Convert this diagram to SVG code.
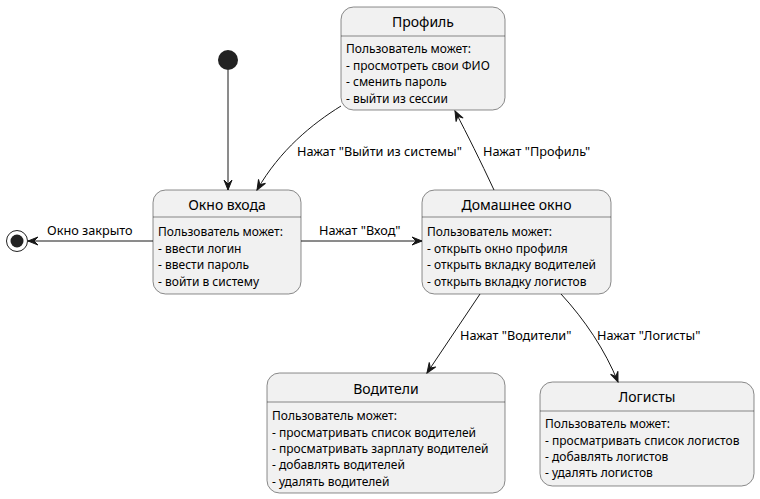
<svg xmlns="http://www.w3.org/2000/svg" width="760" height="499" viewBox="0 0 760 499">
<style>
.box{fill:#F1F1F1;stroke:#181818;stroke-width:0.5}
.div{stroke:#181818;stroke-width:0.5}
.t{font-family:"Noto Sans","DejaVu Sans",sans-serif;font-size:14px;font-weight:normal;fill:#000;text-anchor:middle}
.b{font-family:"Noto Sans","DejaVu Sans",sans-serif;font-size:12px;fill:#000}
.l{font-family:"Noto Sans","DejaVu Sans",sans-serif;font-size:12.7px;fill:#000}
.e{fill:none;stroke:#181818;stroke-width:1;marker-end:url(#ah)}
</style>
<defs>
<marker id="ah" markerUnits="userSpaceOnUse" viewBox="-11 -5 12 10" refX="0" refY="0" markerWidth="12" markerHeight="10" orient="auto">
<path d="M0,0 L-10,-4 L-6,0 L-10,4 Z" fill="#181818" stroke="#181818" stroke-width="1"/>
</marker>
</defs>
<rect width="760" height="499" fill="#FFFFFF"/>
<g id="start"><circle cx="228" cy="60" r="10" fill="#222222"/></g>
<g id="end"><circle cx="17" cy="241" r="10.5" fill="none" stroke="#222222" stroke-width="1"/><circle cx="17" cy="241" r="6.5" fill="#222222"/></g>
<g id="profile">
<rect class="box" x="341" y="7" width="164" height="103" rx="12.5"/>
<line class="div" x1="341" y1="36" x2="505" y2="36"/>
<text class="t" x="423" y="27">Профиль</text>
<text class="b" x="346" y="53">Пользователь может:</text>
<text class="b" x="346" y="70">- просмотреть свои ФИО</text>
<text class="b" x="346" y="86">- сменить пароль</text>
<text class="b" x="346" y="103">- выйти из сессии</text>
</g>
<g id="login">
<rect class="box" x="153" y="190" width="148" height="104" rx="12.5"/>
<line class="div" x1="153" y1="217" x2="301" y2="217"/>
<text class="t" x="227" y="210">Окно входа</text>
<text class="b" x="158" y="236">Пользователь может:</text>
<text class="b" x="158" y="253">- ввести логин</text>
<text class="b" x="158" y="269">- ввести пароль</text>
<text class="b" x="158" y="286">- войти в систему</text>
</g>
<g id="home">
<rect class="box" x="422" y="190" width="189" height="104" rx="12.5"/>
<line class="div" x1="422" y1="217" x2="611" y2="217"/>
<text class="t" x="516.5" y="210">Домашнее окно</text>
<text class="b" x="427" y="236">Пользователь может:</text>
<text class="b" x="427" y="253">- открыть окно профиля</text>
<text class="b" x="427" y="269">- открыть вкладку водителей</text>
<text class="b" x="427" y="286">- открыть вкладку логистов</text>
</g>
<g id="drivers">
<rect class="box" x="267" y="373" width="238" height="120" rx="12.5"/>
<line class="div" x1="267" y1="402" x2="505" y2="402"/>
<text class="t" x="386" y="394">Водители</text>
<text class="b" x="272" y="420">Пользователь может:</text>
<text class="b" x="272" y="437">- просматривать список водителей</text>
<text class="b" x="272" y="453">- просматривать зарплату водителей</text>
<text class="b" x="272" y="469">- добавлять водителей</text>
<text class="b" x="272" y="486">- удалять водителей</text>
</g>
<g id="logists">
<rect class="box" x="540" y="382" width="214" height="104" rx="12.5"/>
<line class="div" x1="540" y1="411" x2="754" y2="411"/>
<text class="t" x="647" y="402">Логисты</text>
<text class="b" x="545" y="428">Пользователь может:</text>
<text class="b" x="545" y="445">- просматривать список логистов</text>
<text class="b" x="545" y="461">- добавлять логистов</text>
<text class="b" x="545" y="477">- удалять логистов</text>
</g>
<g id="edges">
<path class="e" d="M228,70 L228,190"/>
<path class="e" d="M341,106 C312,124 280,150 257,190"/>
<path class="e" d="M494,190 C480,160 468,136 455,111"/>
<path class="e" d="M301,241 L422,241"/>
<path class="e" d="M153,241 L28,241"/>
<path class="e" d="M480,294 L427,373"/>
<path class="e" d="M561,294 C585,320 605,350 618,382"/>
<text class="l" x="297" y="156">Нажат "Выйти из системы"</text>
<text class="l" x="483" y="156">Нажат "Профиль"</text>
<text class="l" x="319" y="235">Нажат "Вход"</text>
<text class="l" x="47" y="235">Окно закрыто</text>
<text class="l" x="460" y="340">Нажат "Водители"</text>
<text class="l" x="597" y="340">Нажат "Логисты"</text>
</g>
</svg>
